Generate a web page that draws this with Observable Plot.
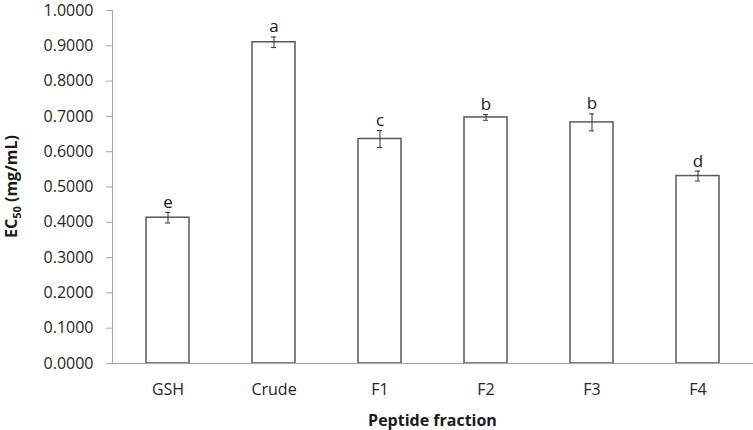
<!DOCTYPE html>
<html>
<head>
<meta charset="utf-8">
<script src="https://cdn.jsdelivr.net/npm/d3@7"></script>
<script src="https://cdn.jsdelivr.net/npm/@observablehq/plot@0.6"></script>
<style>
  body { margin: 0; background: #fff; }
  #chart svg { font-family: "Open Sans", sans-serif; }
</style>
</head>
<body>
<div id="chart"></div>
<script>
const categories = ["GSH", "Crude", "F1", "F2", "F3", "F4"];
const values = [0.413, 0.910, 0.636, 0.697, 0.683, 0.531];
const errors = [0.015, 0.015, 0.024, 0.008, 0.024, 0.014];
const letters = ["e", "a", "c", "b", "b", "d"];
const yTicks = [0, 0.1, 0.2, 0.3, 0.4, 0.5, 0.6, 0.7, 0.8, 0.9, 1.0];

const data = categories.map((c, i) => ({
  cat: c, v: values[i], lo: values[i] - errors[i], hi: values[i] + errors[i], letter: letters[i]
}));

const W = 753, H = 430;
const mL = 112, mR = 0, mT = 10, mB = 67;

const plot = Plot.plot({
  width: W, height: H,
  marginLeft: mL, marginRight: mR, marginTop: mT, marginBottom: mB,
  style: { fontFamily: "Open Sans, sans-serif", fontSize: "16px", color: "#262626", background: "#fff", overflow: "visible" },
  x: { domain: categories, paddingInner: 0.59, paddingOuter: 0.295, label: null },
  y: { domain: [0, 1], label: null },
  marks: [
    Plot.axisY({ ticks: yTicks, tickFormat: d => d.toFixed(4), tickSize: 6, tickPadding: 13, stroke: "#a6a6a6", fill: "#262626", fontSize: 16, label: null }),
    Plot.axisX({ tickSize: 0, tickPadding: 20, fill: "#262626", fontSize: 16, label: null }),
    Plot.frame({ anchor: "left", stroke: "#a6a6a6", strokeWidth: 1 }),
    Plot.barY(data, { x: "cat", y: "v", fill: "#fff", stroke: "#595959", strokeWidth: 1.5 }),
    Plot.ruleY([0], { stroke: "#a6a6a6", strokeWidth: 1.2 }),
    Plot.ruleX(data, { x: "cat", y1: "lo", y2: "hi", stroke: "#333", strokeWidth: 1 }),
    Plot.tickY(data, { x: "cat", y: "lo", stroke: "#333", strokeWidth: 1, insetLeft: 19, insetRight: 19 }),
    Plot.tickY(data, { x: "cat", y: "hi", stroke: "#333", strokeWidth: 1, insetLeft: 19, insetRight: 19 }),
    Plot.text(data, { x: "cat", y: "hi", text: "letter", dy: -10, fontSize: 17, fill: "#1a1a1a" })
  ]
});

document.getElementById("chart").appendChild(plot);

const svg = d3.select(plot);
// x axis title
svg.append("text")
  .attr("x", (mL + (W - mR)) / 2)
  .attr("y", 426)
  .attr("text-anchor", "middle")
  .attr("font-weight", "bold")
  .attr("font-size", 16)
  .attr("fill", "#1a1a1a")
  .text("Peptide fraction");

// y axis title with subscript
const yt = svg.append("text")
  .attr("transform", `translate(17,${(mT + (H - mB)) / 2}) rotate(-90)`)
  .attr("text-anchor", "middle")
  .attr("font-weight", "bold")
  .attr("font-size", 16)
  .attr("fill", "#1a1a1a");
yt.append("tspan").text("EC");
yt.append("tspan").attr("font-size", 11).attr("dy", 4).text("50");
yt.append("tspan").attr("dy", -4).text(" (mg/mL)");
</script>
</body>
</html>
